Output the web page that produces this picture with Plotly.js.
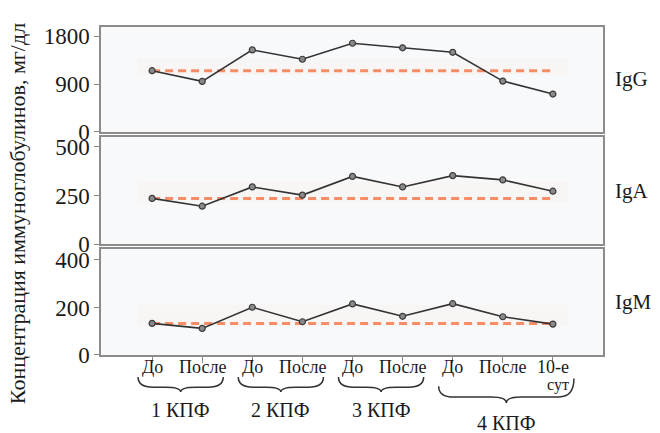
<!DOCTYPE html>
<html>
<head>
<meta charset="utf-8">
<script src="https://cdn.plot.ly/plotly-3.0.1.min.js"></script>
<style>html,body{margin:0;padding:0;background:#fff;}#chart{width:660px;height:433px;}</style>
</head>
<body>
<div id="chart"></div>
<script>
// ---- data ----
const categories = ['До', 'После', 'До', 'После', 'До', 'После', 'До', 'После', '10-е'];
const igG = [1150, 950, 1540, 1365, 1665, 1580, 1495, 955, 712];
const igA = [235, 195, 294, 252, 348, 294, 352, 330, 272];
const igM = [133, 112, 201, 140, 215, 163, 216, 161, 130];
const refValues = [1150, 235, 133];
const bandLow = [1070, 214, 121];
const bandHigh = [1390, 323, 212];
const panelNames = ['IgG', 'IgA', 'IgM'];
const groupLabels = ['1 КПФ', '2 КПФ', '3 КПФ', '4 КПФ'];
const groupStart = [0, 2, 4, 6];
const groupEnd = [1, 3, 5, 8];
const yTicks = [[0, 900, 1800], [0, 250, 500], [0, 200, 400]];
const yRanges = [[0, 1970], [0, 551], [0, 446]];

const serif = 'Liberation Serif, serif';
const xIdx = categories.map((c, i) => i);
const series = [igG, igA, igM];
const domains = [[0.680, 1], [0.338, 0.665], [0, 0.323]];
const axSuffix = ['', '2', '3'];

const traces = [];
const shapes = [];
series.forEach((vals, k) => {
  const xa = 'x' + axSuffix[k], ya = 'y' + axSuffix[k];
  shapes.push({type: 'rect', xref: xa, yref: ya, x0: -0.3, x1: 8.3, y0: bandLow[k], y1: bandHigh[k],
    fillcolor: 'rgba(255,175,140,0.05)', line: {width: 0}, layer: 'below'});
  traces.push({x: [xIdx[0], xIdx[xIdx.length - 1]], y: [refValues[k], refValues[k]], xaxis: xa, yaxis: ya,
    mode: 'lines', line: {color: 'rgba(246,122,78,0.85)', width: 3, dash: '8px,5px'}, hoverinfo: 'skip', showlegend: false});
  traces.push({x: xIdx, y: vals, xaxis: xa, yaxis: ya, mode: 'lines+markers',
    line: {color: '#333', width: 1.6},
    marker: {size: 6, color: '#8a8a8a', line: {color: '#3a3a3a', width: 1.2}}, showlegend: false});
});

const layout = {
  width: 660, height: 433,
  margin: {l: 101, r: 57, t: 27, b: 78},
  paper_bgcolor: '#ffffff', plot_bgcolor: '#f8f9fb',
  font: {family: serif, color: '#1a1a1a'},
  showlegend: false,
  shapes: shapes,
  annotations: []
};

series.forEach((vals, k) => {
  const s = axSuffix[k];
  const isBottom = k === 2;
  layout['xaxis' + s] = {
    domain: [0, 1], anchor: 'y' + s, range: [-1.02, 9.0],
    tickmode: 'array', tickvals: xIdx, ticktext: categories,
    showticklabels: false, ticks: isBottom ? 'outside' : '', ticklen: 6, tickcolor: '#888',
    showgrid: false, zeroline: false, showline: true, mirror: true, linecolor: '#8c8c8c', linewidth: 1.6
  };
  layout['yaxis' + s] = {
    domain: domains[k], anchor: 'x' + s, range: yRanges[k],
    tickmode: 'array', tickvals: yTicks[k], ticks: 'outside', ticklen: 5, tickcolor: '#888',
    tickfont: {family: serif, size: 23, color: '#1a1a1a'},
    showgrid: false, zeroline: false, showline: true, mirror: true, linecolor: '#8c8c8c', linewidth: 1.6
  };
  layout.annotations.push({xref: 'paper', yref: 'paper', x: 1.02, xanchor: 'left',
    y: (domains[k][0] + domains[k][1]) / 2, yanchor: 'middle', text: panelNames[k], showarrow: false,
    font: {family: serif, size: 21, color: '#1a1a1a'}});
});

// category labels under the bottom axis
categories.forEach((c, i) => {
  layout.annotations.push({xref: 'x3', yref: 'paper', x: xIdx[i], y: -0.038, text: c, showarrow: false,
    xanchor: 'center', yanchor: 'middle', font: {family: serif, size: 18, color: '#1a1a1a'}});
});
// "сут" second line under "10-е"
layout.annotations.push({xref: 'x3', yref: 'paper', x: 8.1, y: -0.092, text: 'сут', showarrow: false,
  xanchor: 'center', yanchor: 'middle', font: {family: serif, size: 16, color: '#1a1a1a'}});

// y-axis title
layout.annotations.push({xref: 'paper', yref: 'paper', x: -0.165, y: 0.43, textangle: -90,
  text: 'Концентрация иммуноглобулинов, мг/дл', showarrow: false, xanchor: 'center', yanchor: 'middle',
  font: {family: serif, size: 22, color: '#1a1a1a'}});

// group braces + labels
function brace(xa, xb, ytl, ytr, ym, yb, xm) {
  const q = 0.3;
  return `M ${xa},${ytl} Q ${xa},${ym} ${xa + q},${ym} L ${xm - q},${ym} Q ${xm},${ym} ${xm},${yb} ` +
         `Q ${xm},${ym} ${xm + q},${ym} L ${xb - q},${ym} Q ${xb},${ym} ${xb},${ytr}`;
}
groupLabels.forEach((g, i) => {
  const last = i === groupLabels.length - 1;
  const xa = groupStart[i] - 0.28, xb = groupEnd[i] + 0.42;
  const xm = (xa + xb) / 2;
  const ytl = last ? -0.095 : -0.067, ytr = last ? -0.072 : -0.067;
  const ym = last ? -0.128 : -0.098, yb = last ? -0.146 : -0.113;
  shapes.push({type: 'path', xref: 'x3', yref: 'paper', path: brace(xa, xb, ytl, ytr, ym, yb, xm),
    line: {color: '#333', width: 1.5}});
  layout.annotations.push({xref: 'x3', yref: 'paper', x: xm, y: last ? -0.208 : -0.168, text: g,
    showarrow: false, xanchor: 'center', yanchor: 'middle', font: {family: serif, size: 20, color: '#1a1a1a'}});
});

Plotly.newPlot('chart', traces, layout, {displayModeBar: false, staticPlot: true});
</script>
</body>
</html>
